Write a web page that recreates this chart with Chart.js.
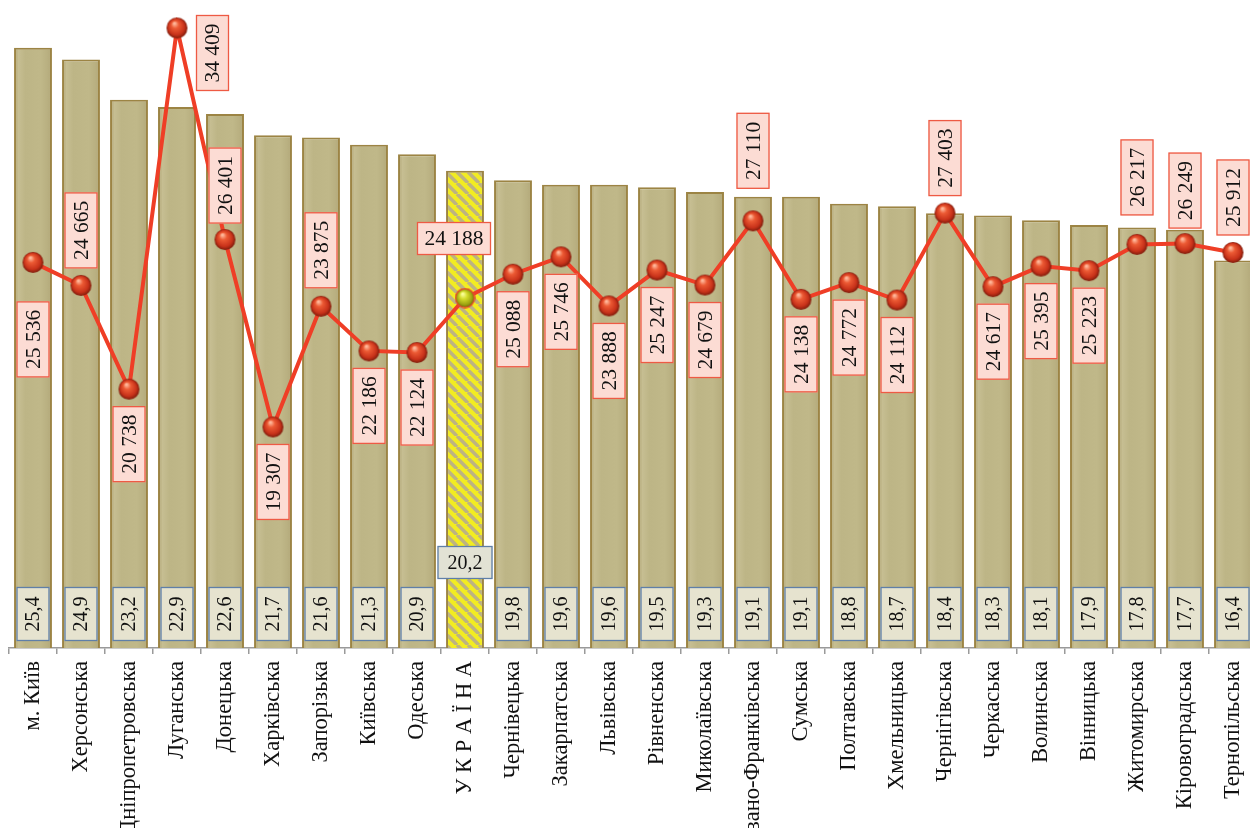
<!DOCTYPE html>
<html>
<head>
<meta charset="utf-8">
<script src="https://cdn.jsdelivr.net/npm/chart.js@4.4.1/dist/chart.umd.min.js"></script>
<style>
  html, body { margin: 0; padding: 0; background: #fff; overflow: hidden; width: 1250px; height: 828px; }
  #wrap { position: relative; width: 1250px; height: 828px; overflow: hidden; }
  #c { position: absolute; left: 0; top: 0; }
</style>
</head>
<body>
<div id="wrap"><canvas id="c" width="1300" height="880"></canvas></div>
<script>
// ---- data ----
const categories = [
  'м. Київ', 'Херсонська', 'Дніпропетровська', 'Луганська', 'Донецька', 'Харківська',
  'Запорізька', 'Київська', 'Одеська', 'У К Р А Ї Н А', 'Чернівецька', 'Закарпатська',
  'Львівська', 'Рівненська', 'Миколаївська', 'Івано-Франківська', 'Сумська', 'Полтавська',
  'Хмельницька', 'Чернігівська', 'Черкаська', 'Волинська', 'Вінницька', 'Житомирська',
  'Кіровоградська', 'Тернопільська'
];
const shareValues = [
  25.4, 24.9, 23.2, 22.9, 22.6, 21.7, 21.6, 21.3, 20.9, 20.2, 19.8, 19.6, 19.6,
  19.5, 19.3, 19.1, 19.1, 18.8, 18.7, 18.4, 18.3, 18.1, 17.9, 17.8, 17.7, 16.4
];
const amountValues = [
  25536, 24665, 20738, 34409, 26401, 19307, 23875, 22186, 22124, 24188, 25088, 25746,
  23888, 25247, 24679, 27110, 24138, 24772, 24112, 27403, 24617, 25395, 25223, 26217,
  26249, 25912
];
const highlightIndex = 9;

// ---- label placement (style) ----
const linePlace = ['b','a','b','r','a','b','a','b','b','h','b','b','b','b','b','a','b','b','b','a','b','b','b','a','a','a'];
const lineGap   = [39,17,17,0,16,17,18,17,17,0,17,17,17,17,17,32,17,17,17,17,17,17,17,29,15,17];

// ---- target plot frame (page pixels) ----
const AREA = { left: 9, top: 10, right: 1257, bottom: 648 };
const BAR_MAX = 27;

// ---- visuals ----
function sphere(r, stops, outline) {
  const s = 2 * r + 2;
  const cv = document.createElement('canvas');
  cv.width = s; cv.height = s;
  const g = cv.getContext('2d');
  const c = s / 2;
  const grd = g.createRadialGradient(c - r * 0.25, c - r * 0.45, r * 0.08, c, c, r);
  stops.forEach(([o, col]) => grd.addColorStop(o, col));
  g.beginPath(); g.arc(c, c, r, 0, Math.PI * 2);
  g.fillStyle = grd; g.fill();
  if (outline) { g.lineWidth = 1.5; g.strokeStyle = outline; g.stroke(); }
  return cv;
}
const redBall = sphere(10.5, [[0, '#ffb79a'], [0.3, '#ec5a34'], [0.75, '#c8321a'], [1, '#7e1c0c']]);
const ukrBall = sphere(9.5, [[0, '#fbff9a'], [0.35, '#d4dc2a'], [0.8, '#9aa010'], [1, '#5e6408']], '#e84a2c');

function stripePattern() {
  const cv = document.createElement('canvas');
  cv.width = 11; cv.height = 11;
  const g = cv.getContext('2d');
  g.fillStyle = '#f2ec22';
  g.fillRect(0, 0, 11, 11);
  g.strokeStyle = '#bdb382';
  g.lineWidth = 3.5;
  for (let k = -11; k <= 22; k += 11) {
    g.beginPath(); g.moveTo(k, 0); g.lineTo(k + 11, 11); g.stroke();
  }
  return g.createPattern(cv, 'repeat');
}
const ukrPattern = stripePattern();

function barFill(c) {
  if (c.dataIndex === highlightIndex) return ukrPattern;
  const xs = c.chart.scales.x;
  if (!xs || xs.getPixelForValue(c.dataIndex) == null || isNaN(xs.getPixelForValue(c.dataIndex))) return '#beb688';
  const x = xs.getPixelForValue(c.dataIndex);
  const g = c.chart.ctx.createLinearGradient(x - 19, 0, x + 19, 0);
  g.addColorStop(0, '#ada170');
  g.addColorStop(0.12, '#c6be92');
  g.addColorStop(0.3, '#bdb586');
  g.addColorStop(0.7, '#c0b889');
  g.addColorStop(0.9, '#b8af80');
  g.addColorStop(1, '#a99d6a');
  return g;
}

function fmtThousands(v) {
  const s = String(v);
  return s.slice(0, s.length - 3) + ' ' + s.slice(-3);
}

function box(ctx, cx, cy, w, h, fill, stroke, text, font, rotated) {
  ctx.save();
  ctx.fillStyle = fill;
  ctx.fillRect(cx - w / 2, cy - h / 2, w, h);
  ctx.lineWidth = 1.3;
  ctx.strokeStyle = stroke;
  ctx.strokeRect(cx - w / 2 + 0.5, cy - h / 2 + 0.5, w - 1, h - 1);
  ctx.fillStyle = '#111';
  ctx.font = font;
  ctx.textAlign = 'center';
  ctx.textBaseline = 'middle';
  ctx.translate(cx, cy + (rotated ? 0 : 1));
  if (rotated) ctx.rotate(-Math.PI / 2);
  ctx.fillText(text, 0, rotated ? 1 : 0);
  ctx.restore();
}

const labelPlugin = {
  id: 'labels',
  afterDatasetsDraw(chart) {
    const ctx = chart.ctx;
    const barMeta = chart.getDatasetMeta(1);
    barMeta.data.forEach((el, i) => {
      const txt = shareValues[i].toFixed(1).replace('.', ',');
      const base = el.base;
      if (i === highlightIndex) {
        box(ctx, el.x, base - 69 - 16.5, 55, 33, '#e2e2d4', '#5f7fa8', txt, '20px "Liberation Serif"', false);
      } else {
        box(ctx, el.x, base - 7 - 27, 33, 54, '#e6e3cf', '#5f7fa8', txt, '20px "Liberation Serif"', true);
      }
    });
    const lineMeta = chart.getDatasetMeta(0);
    lineMeta.data.forEach((el, i) => {
      const txt = fmtThousands(amountValues[i]);
      const p = linePlace[i];
      const font = '21.5px "Liberation Serif"';
      const fill = '#fcdcd4', stroke = '#ee5a44';
      if (p === 'b') box(ctx, el.x, el.y + lineGap[i] + 38, 33, 76, fill, stroke, txt, font, true);
      else if (p === 'a') box(ctx, el.x, el.y - lineGap[i] - 38, 33, 76, fill, stroke, txt, font, true);
      else if (p === 'r') box(ctx, el.x + 19 + 16.5, el.y - 13 + 38, 33, 76, fill, stroke, txt, font, true);
      else if (p === 'h') box(ctx, el.x - 11, el.y - 43 - 16.5, 74, 33, fill, stroke, txt, font, false);
    });
  }
};

let xAxisHeight = 180;
const pad = { left: 9, top: 10, right: 40, bottom: 0 };

const canvas = document.getElementById('c');
const chart = new Chart(canvas, {
  type: 'bar',
  data: {
    labels: categories,
    datasets: [
      {
        type: 'line',
        data: amountValues,
        yAxisID: 'yLine',
        order: 0,
        borderColor: '#ef3e26',
        borderWidth: 4,
        tension: 0,
        pointStyle: (c) => c.dataIndex === highlightIndex ? ukrBall : redBall,
        pointRadius: 10,
        pointHoverRadius: 10
      },
      {
        type: 'bar',
        data: shareValues,
        yAxisID: 'yBar',
        order: 1,
        backgroundColor: barFill,
        borderColor: '#9c8444',
        borderWidth: 2,
        borderSkipped: 'bottom',
        categoryPercentage: 1,
        barPercentage: 0.79
      }
    ]
  },
  options: {
    responsive: false,
    animation: false,
    devicePixelRatio: 1,
    layout: { padding: pad },
    plugins: { legend: { display: false }, tooltip: { enabled: false } },
    scales: {
      x: {
        offset: true,
        border: { display: true, color: '#9a9a9a', width: 1.5 },
        grid: { display: true, offset: true, drawOnChartArea: false, drawTicks: true, tickLength: 6, color: '#9a9a9a', lineWidth: 1.5 },
        ticks: {
          autoSkip: false, maxRotation: 90, minRotation: 90, padding: 7,
          color: '#111', font: { family: '"Liberation Serif"', size: 22.5 }
        },
        afterFit: (s) => { s.height = xAxisHeight; s.paddingLeft = 0; s.paddingRight = 0; }
      },
      yBar: { display: false, min: 0, max: BAR_MAX, position: 'left' },
      yLine: { display: false, min: 10940, max: 35090, position: 'right' }
    }
  },
  plugins: [labelPlugin]
});

// measure the real plot frame from the scales and fit it to the target size
function frame() {
  const xs = chart.scales.x, yb = chart.scales.yBar;
  const n = categories.length - 1;
  const p0 = xs.getPixelForValue(0), pn = xs.getPixelForValue(n);
  const w = (pn - p0) / n;
  return { left: p0 - w / 2, right: pn + w / 2, top: yb.getPixelForValue(BAR_MAX), bottom: yb.getPixelForValue(0) };
}
for (let k = 0; k < 4; k++) {
  const f = frame();
  pad.right += (f.right - f.left) - (AREA.right - AREA.left);
  xAxisHeight += (f.bottom - f.top) - (AREA.bottom - AREA.top);
  chart.options.layout.padding = { ...pad };
  chart.update();
}
const f = frame();
canvas.style.left = (AREA.left - f.left) + 'px';
canvas.style.top = (AREA.top - f.top) + 'px';
</script>
</body>
</html>
